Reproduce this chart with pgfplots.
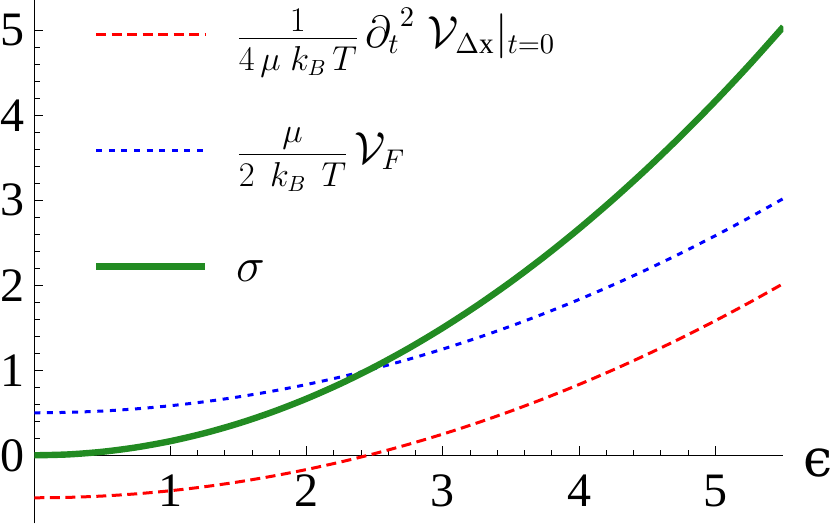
\documentclass[border=0pt]{standalone}
\usepackage{amsmath}
\usepackage{graphicx}
\usepackage{fontspec}
\setmainfont{Liberation Serif}
\newfontfamily\dejaserif{DejaVu Serif}
\usepackage{pgfplots}
\pgfplotsset{compat=1.18}
\usepackage{pgfplotstable}

\definecolor{sigmagreen}{RGB}{34,139,34}

\pgfplotstableread{
e     s        v        d
0.00  0.00000  0.50000  -0.50000
0.25  0.01042  0.50521  -0.49479
0.50  0.04167  0.52083  -0.47917
0.75  0.09375  0.54688  -0.45313
1.00  0.16667  0.58333  -0.41667
1.25  0.26042  0.63021  -0.36979
1.50  0.37500  0.68750  -0.31250
1.75  0.51042  0.75521  -0.24479
2.00  0.66667  0.83333  -0.16667
2.25  0.84375  0.92188  -0.07813
2.50  1.04167  1.02083   0.02083
2.75  1.26042  1.13021   0.13021
3.00  1.50000  1.25000   0.25000
3.25  1.76042  1.38021   0.38021
3.50  2.04167  1.52083   0.52083
3.75  2.34375  1.67188   0.67188
4.00  2.66667  1.83333   0.83333
4.25  3.01042  2.00521   1.00521
4.50  3.37500  2.18750   1.18750
4.75  3.76042  2.38021   1.38021
5.00  4.16667  2.58333   1.58333
5.25  4.59375  2.79688   1.79688
5.50  5.04167  3.02083   2.02083
}\datatable

\newcommand{\zbox}[2]{\raisebox{#1}[0pt][0pt]{#2}}
\newcommand{\lownum}[2]{\raisebox{#1}[\height][0pt]{$#2$}}

\begin{document}
\begin{tikzpicture}
\begin{axis}[
  at={(17.15pt,34.85pt)}, anchor=origin,
  scale only axis,
  width=374.55pt, height=261.8pt,
  xmin=0, xmax=5.5, ymin=-0.8, ymax=5.36,
  axis lines=middle,
  axis line style={-, line width=0.5pt, black},
  hide obscured x ticks=true,
  hide obscured y ticks=false,
  xtick={1,2,3,4,5},
  ytick={0,1,2,3,4,5},
  minor x tick num=4,
  minor y tick num=4,
  tick align=inside,
  major tick length=4.5pt,
  minor tick length=2.75pt,
  tick style={black, line width=0.5pt},
  /pgf/number format/assume math mode=true,
  tick label style={font=\fontsize{24}{28}\selectfont, inner sep=0pt},
  xticklabel style={anchor=north, yshift=-9.5pt},
  yticklabel style={anchor=east, xshift=-4.5pt},
  xlabel={\dejaserif ϵ},
  x label style={font=\fontsize{26}{30}\selectfont, anchor=west, inner sep=0pt, xshift=10pt, yshift=-4pt},
  legend cell align=left,
  legend image code/.code={\draw[#1] (0pt,0pt) -- (54.5pt,0pt);},
  legend style={draw=none, fill=none, inner sep=0pt, outer sep=0pt,
    at={(axis cs:0.431,5.015)}, anchor=north west,
    row sep=52.5pt, column sep=12pt,
    font=\fontsize{16}{19}\selectfont},
]
\addplot[red, line width=1.5pt, dash pattern=on 5pt off 2.75pt, smooth] table[x=e, y=d] {\datatable};
\addlegendentry{\zbox{-7pt}{$\dfrac{\lownum{-4pt}{1}}{4\,\mu\;k_B\,T}\,\scalebox{1.3}{${\partial_t}^{2}\;\mathcal{V}_{\Delta\mathrm{x}}|_{t=0}$}$}}
\addplot[blue, line width=1.5pt, dash pattern=on 3pt off 3.3pt, smooth] table[x=e, y=v] {\datatable};
\addlegendentry{\zbox{-7pt}{$\dfrac{\lownum{-2pt}{\mu}}{2\;\,k_B\;\,T}\,\scalebox{1.3}{$\mathcal{V}_F$}$}}
\addplot[sigmagreen, line width=3.2pt, smooth] table[x=e, y=s] {\datatable};
\addlegendentry{\zbox{-8pt}{\scalebox{1.4}{$\sigma$}}}
\end{axis}
\pgfresetboundingbox
\path[use as bounding box] (0,0) rectangle (417pt,262.5pt);
\end{tikzpicture}
\end{document}
